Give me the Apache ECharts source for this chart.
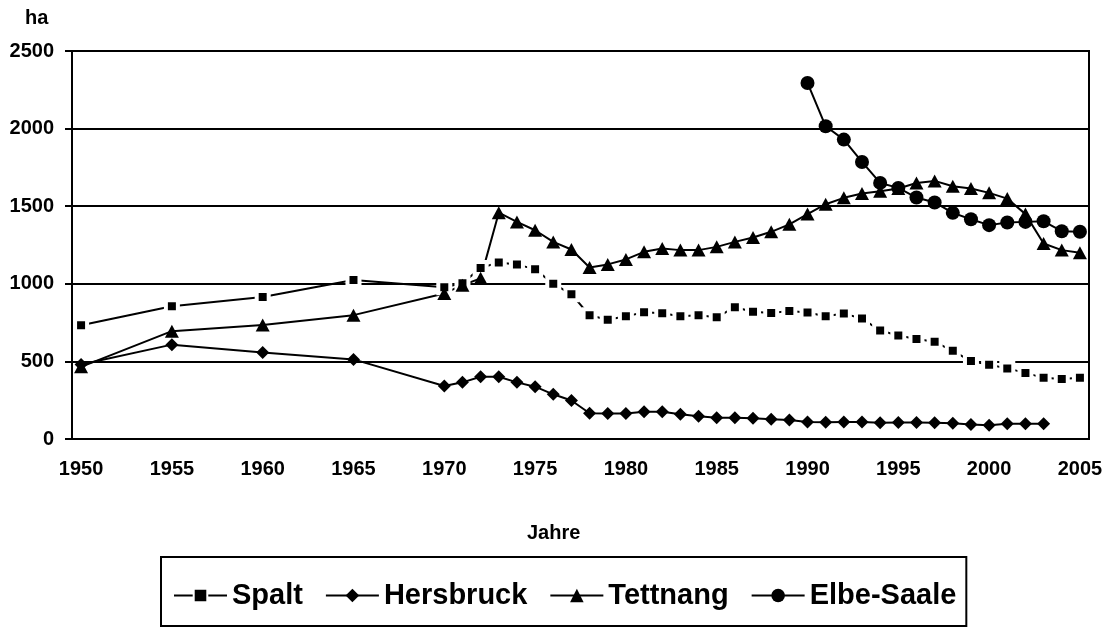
<!DOCTYPE html>
<html>
<head>
<meta charset="utf-8">
<title>Hopfenanbau</title>
<script src="https://cdn.jsdelivr.net/npm/echarts@6/dist/echarts.min.js"></script>
<style>
  html, body { margin: 0; padding: 0; background: #fff; }
  #chart { width: 1113px; height: 632px; }
</style>
</head>
<body>
<div id="chart"></div>
<script>
// category labels on the x axis
var years = []
for (var y = 1950; y <= 2005; y++) years.push(String(y))

var yTicks = [0, 500, 1000, 1500, 2000, 2500]

var spaltYears = [1950, 1955, 1960, 1965, 1970, 1971, 1972, 1973, 1974, 1975, 1976, 1977, 1978, 1979,
  1980, 1981, 1982, 1983, 1984, 1985, 1986, 1987, 1988, 1989, 1990, 1991, 1992, 1993, 1994, 1995,
  1996, 1997, 1998, 1999, 2000, 2001, 2002, 2003, 2004, 2005]
var spaltValues = [733, 856, 915, 1025, 978, 1003, 1102, 1138, 1125, 1093, 1000, 933, 797, 768,
  791, 816, 810, 791, 797, 784, 849, 820, 812, 824, 815, 791, 808, 776, 699, 667,
  645, 626, 568, 502, 478, 455, 426, 394, 386, 394]

var hersbruckYears = [1950, 1955, 1960, 1965, 1970, 1971, 1972, 1973, 1974, 1975, 1976, 1977, 1978, 1979,
  1980, 1981, 1982, 1983, 1984, 1985, 1986, 1987, 1988, 1989, 1990, 1991, 1992, 1993, 1994, 1995,
  1996, 1997, 1998, 1999, 2000, 2001, 2002, 2003]
var hersbruckValues = [480, 608, 557, 513, 341, 365, 401, 401, 365, 337, 288, 248, 166, 165,
  165, 176, 176, 160, 146, 137, 137, 133, 127, 122, 109, 108, 109, 110, 105, 107,
  107, 105, 101, 94, 88, 99, 99, 99]

var tettnangYears = [1950, 1955, 1960, 1965, 1970, 1971, 1972, 1973, 1974, 1975, 1976, 1977, 1978, 1979,
  1980, 1981, 1982, 1983, 1984, 1985, 1986, 1987, 1988, 1989, 1990, 1991, 1992, 1993, 1994, 1995,
  1996, 1997, 1998, 1999, 2000, 2001, 2002, 2003, 2004, 2005]
var tettnangValues = [465, 695, 734, 798, 938, 991, 1035, 1458, 1399, 1345, 1270, 1221, 1105, 1125,
  1157, 1206, 1228, 1217, 1217, 1238, 1270, 1298, 1335, 1383, 1449, 1513, 1554, 1582, 1597, 1614,
  1650, 1663, 1629, 1614, 1586, 1549, 1449, 1260, 1217, 1200]

var elbeYears = [1990, 1991, 1992, 1993, 1994, 1995, 1996, 1997, 1998, 1999, 2000, 2001, 2002, 2003, 2004, 2005]
var elbeValues = [2294, 2015, 1929, 1785, 1650, 1618, 1556, 1524, 1457, 1416, 1378, 1395, 1399, 1403, 1339, 1335]

var font = 'Arial, "Liberation Sans", Helvetica, sans-serif'

function pairs(ys, vs) {
  return ys.map(function (y, i) { return [String(y), vs[i]] })
}

function lineSeries(name, data, symbol, size, extraItem) {
  return {
    name: name,
    type: 'line',
    data: data,
    symbol: symbol,
    symbolSize: size,
    showAllSymbol: true,
    connectNulls: true,
    lineStyle: { color: '#000', width: 2 },
    itemStyle: Object.assign({ color: '#000' }, extraItem || {}),
    emphasis: { disabled: true }
  }
}

var chart = echarts.init(document.getElementById('chart'))

chart.setOption({
  animation: false,
  backgroundColor: '#fff',
  textStyle: { fontFamily: font },
  grid: {
    left: 72,
    right: 24,
    top: 51,
    bottom: 193,
    show: true,
    borderColor: '#000',
    borderWidth: 2
  },
  xAxis: {
    type: 'category',
    data: years,
    boundaryGap: true,
    axisLine: { lineStyle: { color: '#000', width: 2 } },
    axisTick: { interval: 0, length: 7, lineStyle: { color: '#000', width: 2 } },
    axisLabel: {
      interval: 4,
      margin: 20,
      color: '#000',
      fontSize: 20,
      fontWeight: 'bold',
      fontFamily: font
    }
  },
  yAxis: {
    type: 'value',
    min: yTicks[0],
    max: yTicks[yTicks.length - 1],
    interval: 500,
    axisLine: { show: true, lineStyle: { color: '#000', width: 2 } },
    axisTick: { show: true, length: 7, lineStyle: { color: '#000', width: 2 } },
    splitLine: { lineStyle: { color: '#000', width: 2 } },
    axisLabel: {
      margin: 18,
      color: '#000',
      fontSize: 20,
      fontWeight: 'bold',
      fontFamily: font,
      formatter: function (v) { return String(v) }
    }
  },
  legend: {
    left: 161,
    top: 557,
    padding: [24, 10, 16, 12],
    borderColor: '#000',
    borderWidth: 2,
    itemWidth: 53,
    itemHeight: 17,
    itemGap: 22,
    selectedMode: false,
    textStyle: { color: '#000', fontSize: 29, fontWeight: 'bold', fontFamily: font },
    data: ['Spalt', 'Hersbruck', 'Tettnang', 'Elbe-Saale']
  },
  graphic: [
    {
      type: 'text',
      left: 25,
      top: 8,
      style: { text: 'ha', fill: '#000', font: 'bold 20px ' + font }
    },
    {
      type: 'text',
      left: 527,
      top: 523,
      style: { text: 'Jahre', fill: '#000', font: 'bold 20px ' + font }
    }
  ],
  series: [
    lineSeries('Spalt', pairs(spaltYears, spaltValues), 'rect', 12, { borderColor: '#fff', borderWidth: 4 }),
    lineSeries('Hersbruck', pairs(hersbruckYears, hersbruckValues), 'diamond', 13),
    lineSeries('Tettnang', pairs(tettnangYears, tettnangValues), 'triangle', [14, 13]),
    lineSeries('Elbe-Saale', pairs(elbeYears, elbeValues), 'circle', 14)
  ]
})
</script>
</body>
</html>
